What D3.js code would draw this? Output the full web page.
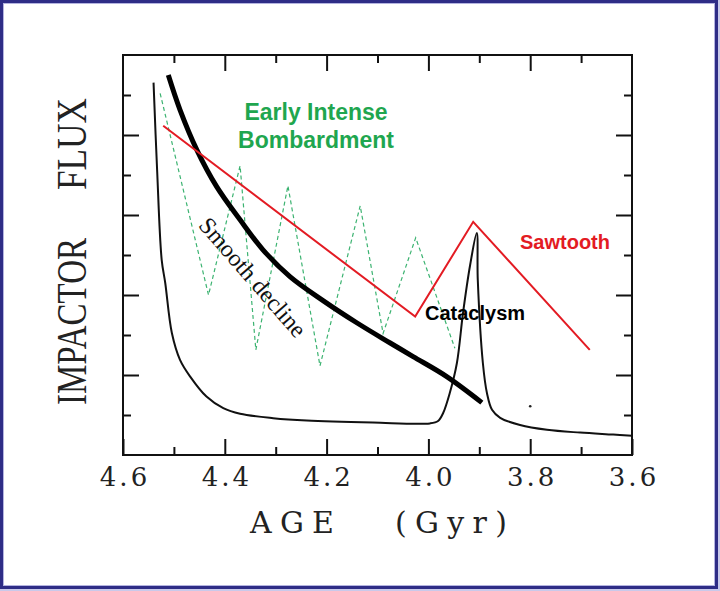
<!DOCTYPE html>
<html>
<head>
<meta charset="utf-8">
<script src="https://cdn.jsdelivr.net/npm/d3@7"></script>
<style>
  html, body { margin: 0; padding: 0; background: #fff; }
  svg { display: block; }
</style>
</head>
<body>
<div class="chart"></div>
<script>
// tick values (age in Gyr, flux in arbitrary units)
var ageMajor = [4.6, 4.4, 4.2, 4.0, 3.8, 3.6];
var ageMinor = [4.5, 4.3, 4.1, 3.9, 3.7];
var fluxMajor = [2, 4, 6, 8];
var fluxMinor = [1, 3, 5, 7, 9];

// [age, flux]
var cataclysm = [
  [4.540, 9.31], [4.533, 7.13], [4.524, 4.88], [4.517, 4.30], [4.504, 3.05],
  [4.488, 2.38], [4.468, 1.96], [4.436, 1.46], [4.403, 1.17], [4.370, 1.03],
  [4.305, 0.92], [4.239, 0.86], [4.109, 0.81], [3.997, 0.79], [3.981, 0.85],
  [3.971, 1.05], [3.958, 1.55], [3.944, 2.30], [3.932, 3.55], [3.918, 4.75],
  [3.905, 5.55], [3.903, 4.38], [3.893, 2.30], [3.885, 1.55], [3.875, 1.13],
  [3.859, 0.93], [3.820, 0.75], [3.767, 0.63], [3.702, 0.56], [3.637, 0.51],
  [3.600, 0.48]
];
var smoothDecline = [
  [4.511, 9.50], [4.488, 8.63], [4.455, 7.63], [4.416, 6.71], [4.370, 5.88],
  [4.325, 5.13], [4.272, 4.46], [4.207, 3.86], [4.140, 3.30], [4.075, 2.80],
  [4.030, 2.46], [3.964, 1.96], [3.895, 1.31]
];
var sawtooth = [[4.521, 8.23], [4.026, 3.46], [3.912, 5.83], [3.683, 2.63]];
var earlyIntense = [
  [4.527, 9.04], [4.432, 4.00], [4.370, 7.23], [4.339, 2.63], [4.276, 6.73],
  [4.213, 2.23], [4.134, 6.23], [4.089, 3.04], [4.025, 5.43], [3.948, 2.67]
];
var specks = [[3.800, 1.22]];

var width = 720, height = 591;

var svg = d3.select(".chart")
            .append("svg")
            .attr("width", width)
            .attr("height", height);

// frame
svg.append("rect").attr("width", width).attr("height", height).attr("fill", "#c9c9ea");
svg.append("rect")
   .attr("x", 1.5).attr("y", 1.5)
   .attr("width", 715).attr("height", 586)
   .attr("fill", "#fff")
   .attr("stroke", "#2e2d86")
   .attr("stroke-width", 3);
svg.append("rect")
   .attr("x", 3.5).attr("y", 3.5)
   .attr("width", 711).attr("height", 582)
   .attr("fill", "none")
   .attr("stroke", "#b4b4e0")
   .attr("stroke-width", 1);

var x = d3.scaleLinear().domain([4.6, 3.6]).range([123, 632]);
var y = d3.scaleLinear().domain([0, 10]).range([455, 55]);

function noDomain(g) { g.select(".domain").remove(); }

function styleAxis(g) {
  g.selectAll("line").attr("stroke", "#111").attr("stroke-width", 2);
}

// bottom
svg.append("g")
   .attr("transform", "translate(0," + y(0) + ")")
   .call(d3.axisBottom(x).tickValues(ageMajor).tickSizeInner(-16).tickSizeOuter(0)
           .tickPadding(13).tickFormat(d3.format(".1f")))
   .call(noDomain).call(styleAxis)
   .call(function(g) {
     g.selectAll("text")
      .attr("font-family", "DejaVu Serif")
      .attr("font-size", 26)
      .attr("letter-spacing", 3)
      .attr("dx", 1.5)
      .attr("fill", "#222");
   });
svg.append("g")
   .attr("transform", "translate(0," + y(0) + ")")
   .call(d3.axisBottom(x).tickValues(ageMinor).tickSizeInner(-8).tickSizeOuter(0).tickFormat(""))
   .call(noDomain).call(styleAxis);

// top
svg.append("g")
   .attr("transform", "translate(0," + y(10) + ")")
   .call(d3.axisTop(x).tickValues(ageMajor.slice(1, -1)).tickSizeInner(-16).tickSizeOuter(0).tickFormat(""))
   .call(noDomain).call(styleAxis);
svg.append("g")
   .attr("transform", "translate(0," + y(10) + ")")
   .call(d3.axisTop(x).tickValues(ageMinor).tickSizeInner(-8).tickSizeOuter(0).tickFormat(""))
   .call(noDomain).call(styleAxis);

// left / right
[[d3.axisLeft, x(4.6)], [d3.axisRight, x(3.6)]].forEach(function(a) {
  svg.append("g")
     .attr("transform", "translate(" + a[1] + ",0)")
     .call(a[0](y).tickValues(fluxMajor).tickSizeInner(-16).tickSizeOuter(0).tickFormat(""))
     .call(noDomain).call(styleAxis);
  svg.append("g")
     .attr("transform", "translate(" + a[1] + ",0)")
     .call(a[0](y).tickValues(fluxMinor).tickSizeInner(-8).tickSizeOuter(0).tickFormat(""))
     .call(noDomain).call(styleAxis);
});

svg.append("rect")
   .attr("x", x(4.6)).attr("y", y(10))
   .attr("width", x(3.6) - x(4.6)).attr("height", y(0) - y(10))
   .attr("fill", "none")
   .attr("stroke", "#111")
   .attr("stroke-width", 2);

// series
var line = d3.line().x(function(d) { return x(d[0]); }).y(function(d) { return y(d[1]); });
var smooth = d3.line().x(function(d) { return x(d[0]); }).y(function(d) { return y(d[1]); })
               .curve(d3.curveCatmullRom.alpha(0.5));

svg.append("path").datum(earlyIntense)
   .attr("d", line)
   .attr("fill", "none")
   .attr("stroke", "#3cb371")
   .attr("stroke-width", 1.2)
   .attr("stroke-dasharray", "4,3");

svg.append("path").datum(cataclysm)
   .attr("d", smooth)
   .attr("fill", "none")
   .attr("stroke", "#111")
   .attr("stroke-width", 2);

svg.append("path").datum(smoothDecline)
   .attr("d", smooth)
   .attr("fill", "none")
   .attr("stroke", "#000")
   .attr("stroke-width", 5);

svg.append("path").datum(sawtooth)
   .attr("d", line)
   .attr("fill", "none")
   .attr("stroke", "#e31b23")
   .attr("stroke-width", 2);

svg.selectAll("circle.speck").data(specks).enter().append("circle")
   .attr("class", "speck")
   .attr("cx", function(d) { return x(d[0]); })
   .attr("cy", function(d) { return y(d[1]); })
   .attr("r", 1.3)
   .attr("fill", "#222");

// axis titles
svg.append("text")
   .attr("x", 250).attr("y", 533)
   .attr("font-family", "DejaVu Serif").attr("font-size", 30)
   .attr("textLength", 84).attr("fill", "#222")
   .text("AGE");
svg.append("text")
   .attr("x", 395).attr("y", 533)
   .attr("font-family", "DejaVu Serif").attr("font-size", 30)
   .attr("textLength", 112).attr("fill", "#222")
   .text("(Gyr)");

svg.append("text")
   .attr("transform", "translate(86,405) rotate(-90)")
   .attr("font-family", "Liberation Serif").attr("font-size", 42)
   .attr("textLength", 167).attr("lengthAdjust", "spacingAndGlyphs")
   .attr("fill", "#222")
   .text("IMPACTOR");
svg.append("text")
   .attr("transform", "translate(86,190) rotate(-90)")
   .attr("font-family", "Liberation Serif").attr("font-size", 42)
   .attr("textLength", 92).attr("lengthAdjust", "spacingAndGlyphs")
   .attr("fill", "#222")
   .text("FLUX");

// annotations
var sans = "Liberation Sans, Arial, sans-serif";
svg.append("text")
   .attr("x", 316).attr("y", 120)
   .attr("text-anchor", "middle")
   .attr("font-family", sans).attr("font-weight", "bold").attr("font-size", 23)
   .attr("fill", "#1fa64f")
   .text("Early Intense");
svg.append("text")
   .attr("x", 316).attr("y", 148)
   .attr("text-anchor", "middle")
   .attr("font-family", sans).attr("font-weight", "bold").attr("font-size", 23)
   .attr("fill", "#1fa64f")
   .text("Bombardment");
svg.append("text")
   .attr("x", 520).attr("y", 249)
   .attr("font-family", sans).attr("font-weight", "bold").attr("font-size", 20)
   .attr("fill", "#e31b23")
   .text("Sawtooth");
svg.append("text")
   .attr("x", 425).attr("y", 320)
   .attr("font-family", sans).attr("font-weight", "bold").attr("font-size", 20)
   .attr("fill", "#000")
   .text("Cataclysm");
svg.append("text")
   .attr("transform", "translate(253,277) rotate(49)")
   .attr("text-anchor", "middle")
   .attr("dy", "0.35em")
   .attr("font-family", "Liberation Serif").attr("font-size", 24)
   .attr("fill", "#111")
   .text("Smooth decline");
</script>
</body>
</html>
